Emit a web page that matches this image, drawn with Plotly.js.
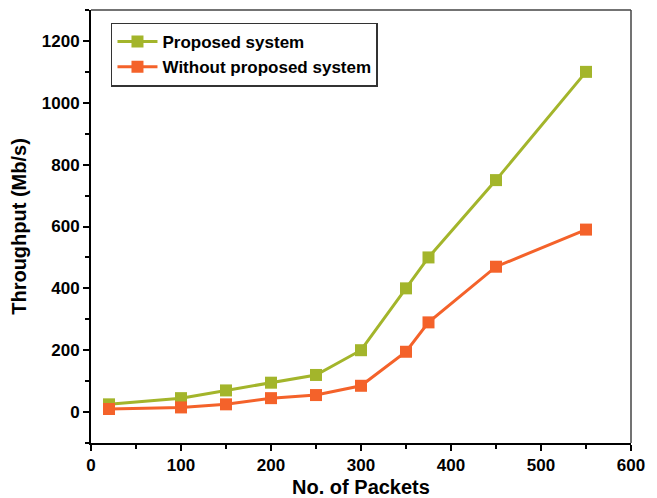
<!DOCTYPE html>
<html>
<head>
<meta charset="utf-8">
<script src="https://cdn.plot.ly/plotly-3.0.1.min.js"></script>
<style>html,body{margin:0;padding:0;background:#fff;}#chart{width:657px;height:498px;}</style>
</head>
<body>
<div id="chart"></div>
<script>
var packets = [20, 100, 150, 200, 250, 300, 350, 375, 450, 550];
var proposed = [25, 45, 70, 95, 120, 200, 400, 500, 750, 1100];
var without = [10, 15, 25, 45, 55, 85, 195, 290, 470, 590];
var seriesNames = ["Proposed system", "Without proposed system"];

var font = {family: "Liberation Sans, Arial, sans-serif", color: "#000"};

var traces = [
  {x: packets, y: proposed, name: seriesNames[0], mode: "lines+markers",
   line: {color: "#a3b52b", width: 3}, marker: {symbol: "square", size: 12, color: "#a3b52b"}},
  {x: packets, y: without, name: seriesNames[1], mode: "lines+markers",
   line: {color: "#f4622a", width: 3}, marker: {symbol: "square", size: 12, color: "#f4622a"}}
];

var layout = {
  width: 657, height: 498,
  margin: {l: 91, r: 26, t: 10, b: 55},
  paper_bgcolor: "#fff", plot_bgcolor: "#fff",
  font: font,
  showlegend: true,
  legend: {x: 0.037, y: 0.971, xanchor: "left", yanchor: "top",
    bordercolor: "#333", borderwidth: 1.5, bgcolor: "#fff",
    font: {family: font.family, size: 17, color: "#000", weight: "bold"},
    tracegroupgap: 0, itemwidth: 40},
  xaxis: {range: [0, 600], dtick: 100, tick0: 0, ticks: "outside", ticklen: 6, tickwidth: 2,
    tickcolor: "#000", showline: true, linecolor: "#000", linewidth: 2, mirror: false,
    showgrid: false, zeroline: false,
    minor: {dtick: 50, ticks: "outside", ticklen: 4, tickwidth: 2, tickcolor: "#000"},
    tickfont: {family: font.family, size: 17, color: "#000", weight: "bold"},
    title: {text: "No. of Packets", font: {family: font.family, size: 20, color: "#000", weight: "bold"}, standoff: 8}},
  yaxis: {range: [-100, 1300], dtick: 200, tick0: 0, ticks: "outside", ticklen: 6, tickwidth: 2,
    tickcolor: "#000", showline: true, linecolor: "#000", linewidth: 2, mirror: false,
    showgrid: false, zeroline: false,
    minor: {dtick: 100, ticks: "outside", ticklen: 4, tickwidth: 2, tickcolor: "#000"},
    tickfont: {family: font.family, size: 17, color: "#000", weight: "bold"},
    title: {text: "Throughput (Mb/s)", font: {family: font.family, size: 20, color: "#000", weight: "bold"}, standoff: 10}},
  shapes: [
    {type: "line", xref: "paper", yref: "paper", x0: 0, x1: 1, y0: 1, y1: 1, line: {color: "#444", width: 1.5}},
    {type: "line", xref: "paper", yref: "paper", x0: 1, x1: 1, y0: 0, y1: 1, line: {color: "#444", width: 1.5}}
  ]
};

Plotly.newPlot("chart", traces, layout, {displayModeBar: false, staticPlot: true});
</script>
</body>
</html>
